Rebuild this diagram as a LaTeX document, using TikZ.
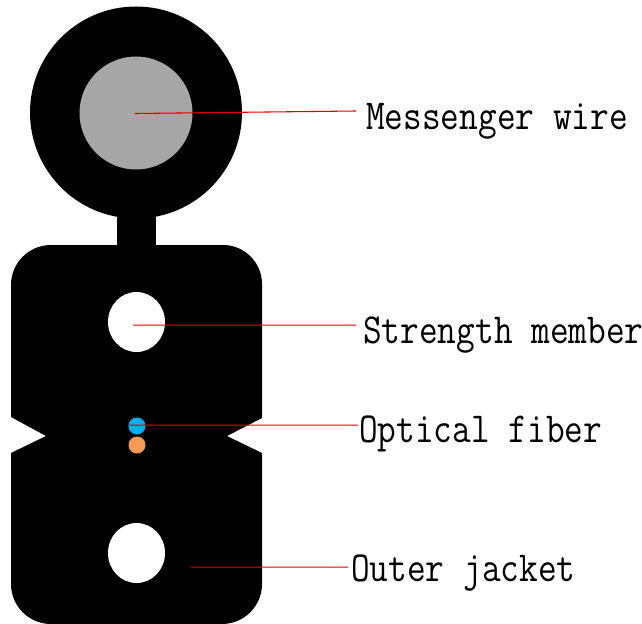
\documentclass[tikz,border=0pt]{standalone}
\usepackage{fontspec}
\definecolor{wire}{HTML}{A6A6A6}
\definecolor{fibA}{HTML}{00AEEF}
\definecolor{fibB}{HTML}{F79A55}
\definecolor{leader}{HTML}{E00000}
\newcommand{\lbltext}[1]{\scalebox{1}[1.18]{\fontsize{27.2pt}{30pt}\selectfont\ttfamily #1}}
\tikzset{
  cablepart/.style={fill=black,draw=none},
  hole/.style={fill=white,draw=none},
  leaderline/.style={draw=leader,line width=0.8pt},
  lbl/.style={anchor=base west,inner ysep=0pt,inner xsep=#1,text=black}
}
\begin{document}
\begin{tikzpicture}[x=0.75pt,y=-0.75pt]
\useasboundingbox (0,0) rectangle (642,624);
% cable
\fill[cablepart] (136,112.5) circle [radius=106];
\fill[cablepart] (117,200) rectangle (156,250);
\fill[cablepart] (51,245) -- (223,245) arc [start angle=-90,end angle=0,radius=39] -- (262,418) -- (227,436) -- (262,453)
  -- (262,584) arc [start angle=0,end angle=90,radius=40] -- (51,624) arc [start angle=90,end angle=180,radius=40]
  -- (11,453) -- (46,436) -- (11,417) -- (11,285) arc [start angle=180,end angle=270,radius=40] -- cycle;
\fill[wire] (136,113) circle [radius=56.5];
\fill[hole] (136.5,322) ellipse [x radius=28.5,y radius=30];
\fill[hole] (136.5,553) ellipse [x radius=28.5,y radius=30];
\fill[fibA] (137,426) circle [radius=8.5];
\fill[fibB] (137,445) circle [radius=8.5];
% labels
\node[lbl=7.5pt] (mw) at (356,130) {\lbltext{Messenger wire}};
\node[lbl=5.25pt] (sm) at (356,343) {\lbltext{Strength member}};
\node[lbl=0.75pt] (of) at (358,442) {\lbltext{Optical fiber}};
\node[lbl=2.25pt] (oj) at (348,581) {\lbltext{Outer jacket}};
% leader starts
\coordinate (mwS) at (135,113.5);
\coordinate (smS) at (133,325.2);
\coordinate (ofS) at (130,425.2);
\coordinate (ojS) at (191,567.2);
\draw[leaderline] (mwS) -- ([shift={(0,-19)}]mw.base west);
\draw[leaderline] (smS) -- ([shift={(0,-17.8)}]sm.base west);
\draw[leaderline] (ofS) -- ([shift={(0,-16.8)}]of.base west);
\draw[leaderline] (ojS) -- ([shift={(0,-13.8)}]oj.base west);
\end{tikzpicture}
\end{document}
